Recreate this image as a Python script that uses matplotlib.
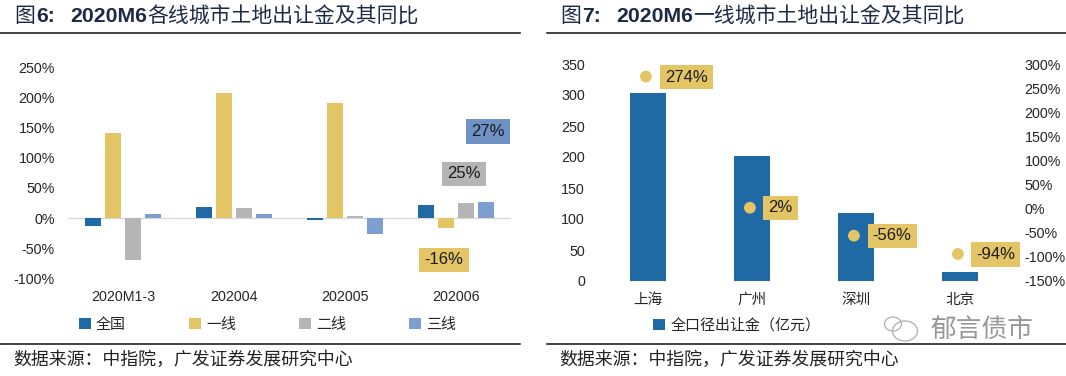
import numpy as np
import matplotlib
matplotlib.use("Agg")
import matplotlib.pyplot as plt
from matplotlib.patches import Rectangle, Ellipse
from matplotlib.ticker import PercentFormatter

plt.rcParams['font.family'] = ['Liberation Sans', 'Noto Sans CJK SC', 'DejaVu Sans']
plt.rcParams['axes.unicode_minus'] = False

W, H = 1066, 376

# left chart data
periods = ["2020M1-3", "202004", "202005", "202006"]
series_names = ["全国", "一线", "二线", "三线"]
quanguo = [-14, 19, -4, 22]
yixian = [141, 208, 190, -16]
erxian = [-69, 17, 4, 25]
sanxian = [7, 6, -27, 27]

# right chart data
cities = ["上海", "广州", "深圳", "北京"]
amount = [304, 201, 110, 14]
yoy = [274, 2, -56, -94]

left_ticks = [-100, -50, 0, 50, 100, 150, 200, 250]
amount_ticks = [0, 50, 100, 150, 200, 250, 300, 350]
yoy_ticks = [-150, -100, -50, 0, 50, 100, 150, 200, 250, 300]

SOURCE = "数据来源\uff1a中指院\uff0c广发证券发展研究中心"
BAR_LABEL = "全口径出让金\uff08亿元\uff09"

BLUE = "#1f69a5"
YELLOW = "#e3c566"
GRAY = "#b5b5b5"
LIGHT = "#7c9fcf"
BOX_BLUE = "#6f93c6"
TITLE = "#1b2a45"
TEXT = "#262626"


def add_axes_px(fig, x0, y0, x1, y1):
    # pixel box, y measured from the top
    return fig.add_axes([x0 / W, 1 - y1 / H, (x1 - x0) / W, (y1 - y0) / H])


def px_text(fig, x, y, s, **kw):
    return fig.text(x / W, 1 - y / H, s, va="center", **kw)


def hline(fig, x0, x1, y):
    fig.add_artist(plt.Line2D([x0 / W, x1 / W], [1 - y / H, 1 - y / H], color="#111111", lw=1.1))


def box_label(fig, x0, x1, y0, y1, s, color):
    fig.add_artist(Rectangle((x0 / W, 1 - y1 / H), (x1 - x0) / W, (y1 - y0) / H,
                             transform=fig.transFigure, facecolor=color, edgecolor="none", zorder=5))
    px_text(fig, (x0 + x1) / 2, (y0 + y1) / 2, s, ha="center", fontsize=12, color="#1a1a1a", zorder=6)


fig = plt.figure(figsize=(W / 100, H / 100), dpi=100, facecolor="white")

# ── headers and footers ──────────────────────
for x, s, bold in [(14, "图", False), (36, "6:", True), (70, "2020M6", True), (147, "各线城市土地出让金及其同比", False),
                   (560, "图", False), (582, "7:", True), (616, "2020M6", True), (693, "一线城市土地出让金及其同比", False)]:
    px_text(fig, x, 16.5, s, fontsize=15.3 if bold else 15, color=TITLE, ha="left",
            fontweight="bold" if bold else "normal")

hline(fig, 0, 520, 33)
hline(fig, 547, 1066, 33)
hline(fig, 0, 520, 344)
hline(fig, 547, 1066, 344)
px_text(fig, 13, 360, SOURCE, fontsize=12.9, color="#222222", ha="left")
px_text(fig, 559, 360, SOURCE, fontsize=12.9, color="#222222", ha="left")

# ── left chart ───────────────────────────────
ax = add_axes_px(fig, 68, 67.3, 511, 278.3)
x = np.arange(len(periods))
width = 0.145
pitch = 0.181
all_series = [quanguo, yixian, erxian, sanxian]
colors = [BLUE, YELLOW, GRAY, LIGHT]
for i, vals in enumerate(all_series):
    ax.bar(x + (i - 1.5) * pitch, vals, width, color=colors[i], label=series_names[i], zorder=3)

ax.set_xlim(-0.5, 3.5)
ax.set_ylim(-100, 250)
ax.set_yticks(left_ticks)
ax.yaxis.set_major_formatter(PercentFormatter(decimals=0))
ax.set_xticks(x)
ax.set_xticklabels(periods)
ax.tick_params(axis="y", length=0, pad=9.5, labelsize=10.3, labelcolor=TEXT)
ax.tick_params(axis="x", length=0, pad=8.5, labelsize=10.3, labelcolor=TEXT)
for s in ax.spines.values():
    s.set_visible(False)
ax.axhline(0, color="#d9d9d9", lw=1, zorder=2)
ax.legend(loc="center left", bbox_to_anchor=(0, -0.22), ncol=4, frameon=False,
          fontsize=10.8, handlelength=0.8, handleheight=0.8, handletextpad=0.35,
          columnspacing=4.2, borderpad=0, borderaxespad=0.7, labelcolor=TEXT)

box_label(fig, 466, 510, 119, 144, "27%", BOX_BLUE)
box_label(fig, 442, 486, 162, 186, "25%", GRAY)
box_label(fig, 419, 469, 248, 272, "-16%", YELLOW)

# ── right chart ──────────────────────────────
ax2 = add_axes_px(fig, 596, 64, 1012, 281)
xr = np.arange(len(cities))
ax2.bar(xr, amount, 0.345, color=BLUE, label=BAR_LABEL, zorder=2)
ax2.set_xlim(-0.5, 3.5)
ax2.set_ylim(0, 350)
ax2.set_yticks(amount_ticks)
ax2.set_xticks(xr)
ax2.set_xticklabels(cities, fontsize=10.5)
ax2.tick_params(axis="y", length=0, pad=8, labelsize=10.3, labelcolor=TEXT)
ax2.tick_params(axis="x", length=0, pad=8.5, labelcolor=TEXT)
for s in ax2.spines.values():
    s.set_visible(False)
ax2.legend(loc="center left", bbox_to_anchor=(0.138, -0.205), frameon=False, fontsize=10.8,
           handlelength=0.8, handleheight=0.8, handletextpad=0.35, borderpad=0, borderaxespad=0,
           labelcolor=TEXT)

ax3 = ax2.twinx()
ax3.scatter(xr - 0.02, yoy, s=72, color=YELLOW, edgecolors="none", zorder=4)
ax3.set_ylim(-150, 300)
ax3.set_yticks(yoy_ticks)
ax3.yaxis.set_major_formatter(PercentFormatter(decimals=0))
ax3.tick_params(axis="y", length=0, pad=9, labelsize=10.3, labelcolor=TEXT)
for s in ax3.spines.values():
    s.set_visible(False)

box_label(fig, 660, 713, 65, 89, "274%", YELLOW)
box_label(fig, 763, 798, 196, 220, "2%", YELLOW)
box_label(fig, 867.5, 916.5, 224, 248, "-56%", YELLOW)
box_label(fig, 971, 1020, 242, 267, "-94%", YELLOW)

# ── watermark ────────────────────────────────
px_text(fig, 930, 330, "郁言债市", fontsize=18.5, color="#858585", alpha=0.85, ha="left", zorder=7)
for cx, cy, ew, eh in [(893, 324, 17, 14), (905, 331, 25, 20)]:
    fig.add_artist(Ellipse((cx / W, 1 - cy / H), ew / W, eh / H, transform=fig.transFigure,
                           facecolor="none", edgecolor="#b5b5b5", lw=1, zorder=7))

plt.savefig("out.png", dpi=100)
plt.close()
